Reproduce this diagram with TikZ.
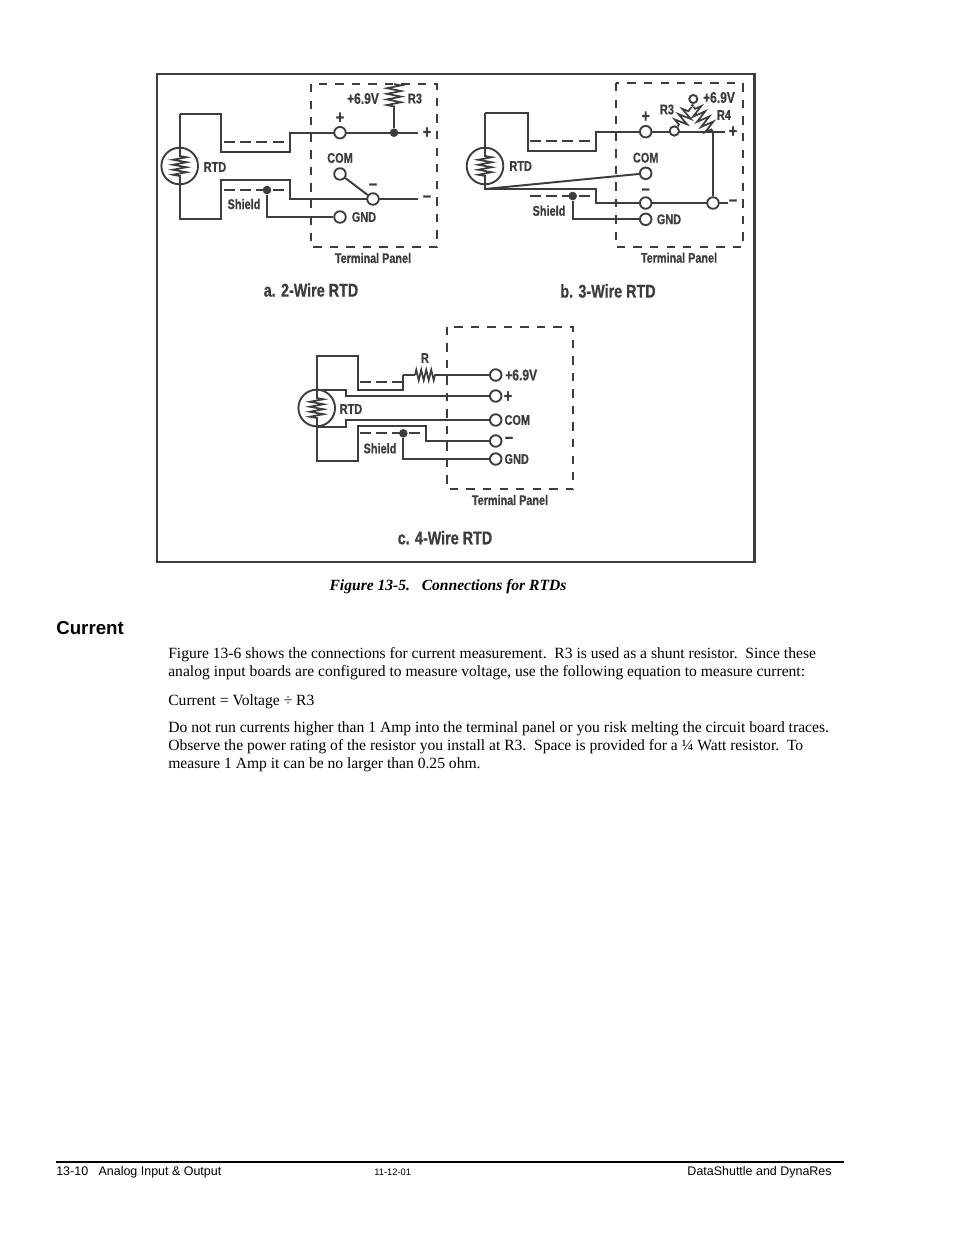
\documentclass[tikz,border=0pt]{standalone}
\usepackage{fontspec}
\setmainfont{Liberation Serif}
\setsansfont{Liberation Sans}
\newfontfamily\figfont[FakeStretch=0.78,BoldFont={Liberation Sans Bold},BoldFeatures={FakeBold=0.6}]{Liberation Sans}
\usetikzlibrary{decorations.pathmorphing}
\definecolor{ink}{gray}{0.24}
\tikzset{
  wire/.style={draw=ink,line width=1.25pt,line join=miter},
  dashwire/.style={draw=ink,line width=1.2pt,dash pattern=on 7pt off 3.4pt},
  panelbox/.style={draw=ink,line width=1.2pt,dash pattern=on 5.4pt off 5.2pt},
  term/.style={circle,draw=ink,line width=1.2pt,fill=white,minimum size=7.4pt,inner sep=0pt},
  solder/.style={circle,fill=ink,minimum size=5.5pt,inner sep=0pt},
  rtdc/.style={circle,draw=ink,line width=1.2pt,fill=white,minimum size=23.5pt,inner sep=0pt},
  flabel/.style={text=ink,inner sep=0pt,font=\figfont\bfseries\fontsize{9}{10}\selectfont},
  fvolt/.style={text=ink,inner sep=0pt,font=\figfont\bfseries\fontsize{9.9}{11}\selectfont},
  fsmall/.style={text=ink,inner sep=0pt,font=\figfont\bfseries\fontsize{8.9}{10}\selectfont},
  ftitle/.style={text=ink,inner sep=0pt,font=\figfont\bfseries\fontsize{11.8}{13}\selectfont},
  fsign/.style={text=ink,inner sep=0pt,font=\figfont\bfseries\fontsize{11.5}{12}\selectfont},
  zz/.style={draw=ink,line width=1.1pt,decorate,decoration={zigzag,segment length=3.6pt,amplitude=4.6pt}},
  zzs/.style={draw=ink,line width=1.1pt,decorate,decoration={zigzag,segment length=3.2pt,amplitude=4.4pt}},
  zzr/.style={draw=ink,line width=1.1pt,decorate,decoration={zigzag,segment length=3.2pt,amplitude=3.4pt}},
  zzb/.style={draw=ink,line width=1.1pt,decorate,decoration={zigzag,segment length=4.2pt,amplitude=4.2pt,pre length=1.5pt,post length=1.5pt}},
  bodytext/.style={anchor=base west,inner sep=0pt,font=\fontsize{10}{12}\selectfont},
  sanstext/.style={anchor=base west,inner sep=0pt,font=\sffamily\fontsize{8}{10}\selectfont},
}
\begin{document}
\begin{tikzpicture}[x=0.6415pt,y=-0.6415pt]
\useasboundingbox (0,0) rectangle (954,1235);
\fill[white] (0,0) rectangle (954,1235);
\node[draw=ink,line width=1.4pt,minimum width=383.5pt,minimum height=313.2pt,inner sep=0pt,anchor=north west] (fig) at (155.5,72.5) {};
% ---------- a
\draw[panelbox] (311,84) rectangle (437,247);
\coordinate (a1) at (179.7,114); \coordinate (a2) at (221,114); \coordinate (a3) at (221,152); \coordinate (a4) at (290,152); \coordinate (a5) at (290,132.7);
\coordinate (a6) at (221,219); \coordinate (a7) at (221,180); \coordinate (a8) at (290,180); \coordinate (a9) at (290,199); \coordinate (a10) at (179.7,219);
\coordinate (aE1) at (418,132.7); \coordinate (aE2) at (418,199);
\coordinate (aR1) at (394,84); \coordinate (aR2) at (394,108);
\coordinate (aD1) at (224,142); \coordinate (aD2) at (290,142);
\coordinate (aS1) at (224,190); \coordinate (aS2) at (290,190);
\coordinate (aG) at (267,217);
\draw[wire] (a1) -- (a2) -- (a3) -- (a4) -- (a5) -- (aE1);
\draw[wire] (a1) -- (a10) -- (a6) -- (a7) -- (a8) -- (a9) -- (aE2);
\draw[dashwire] (aD1) -- (aD2);
\draw[dashwire] (aS1) -- (aS2);
\node[rtdc] (artd) at (179.7,166) {};
\draw[zzs] (179.7,156) -- (179.7,176);
\draw[wire] (179.7,148) -- (179.7,157) (179.7,175) -- (179.7,184);
\node[term] (ap) at (340,132.7) {};
\node[term] (acom) at (340,174) {};
\node[term] (am) at (373,199) {};
\node[term] (agnd) at (340,217) {};
\node[solder] (ad1) at (394,132.7) {};
\node[solder] (ad2) at (267,190) {};
\draw[wire] (acom) -- (am);
\draw[wire] (ad2) -- (aG) -- (agnd);
\draw[zz] (aR1) -- (aR2);
\draw[wire] (aR2) -- (ad1);
\node[fvolt] (la1) at (363,98.5) {+6.9V};
\node[flabel] (la2) at (415,98.5) {R3};
\node[fsign] (la3) at (340,118) {+};
\node[fsign] (la4) at (427,132.7) {+};
\node[flabel] (la5) at (340,158) {COM};
\node[fsign] (la6) at (373,187) {−};
\node[fsign] (la7) at (427,199) {−};
\node[flabel] (la8) at (364,217) {GND};
\node[flabel] (la9) at (215,167) {RTD};
\node[flabel] (la10) at (244,204) {Shield};
\node[fsmall] (la11) at (373,258) {Terminal Panel};
\node[ftitle] (la12) at (311,290) {a. 2-Wire RTD};
% ---------- b
\draw[panelbox] (615.7,83) rectangle (742.7,247);
\coordinate (b1) at (485,113); \coordinate (b2) at (527.7,113); \coordinate (b3) at (527.7,151); \coordinate (b4) at (595.7,151); \coordinate (b5) at (595.7,131.7);
\coordinate (b6) at (485,189); \coordinate (b7) at (596,189); \coordinate (b8) at (596,203);
\coordinate (bE1) at (725,131.7); \coordinate (bE2) at (728,203); \coordinate (bJ) at (713,131.7);
\coordinate (bD1) at (530,141); \coordinate (bD2) at (596,141);
\coordinate (bS1) at (530,196); \coordinate (bS2) at (596,196);
\coordinate (bG) at (572.7,219.3);
\draw[wire] (b1) -- (b2) -- (b3) -- (b4) -- (b5) -- (bE1);
\draw[wire] (b1) -- (b6) -- (b7) -- (b8) -- (bE2);
\draw[dashwire] (bD1) -- (bD2);
\draw[dashwire] (bS1) -- (bS2);
\node[rtdc] (brtd) at (485,166) {};
\draw[zzs] (485,156) -- (485,176);
\draw[wire] (485,148) -- (485,157) (485,175) -- (485,184);
\node[term] (bp) at (645.7,131.7) {};
\node[term] (bcom) at (645.7,173.3) {};
\node[term] (bm) at (645.7,203) {};
\node[term] (bgnd) at (645.7,219.3) {};
\node[term,minimum size=6pt] (br3) at (674.3,131) {};
\node[term] (bm2) at (713,203) {};
\node[term,minimum size=5.2pt] (bv) at (693.3,99) {};
\node[solder,minimum size=2pt] (bn) at (692.5,105.5) {};
\node[solder] (bd) at (572.7,196) {};
\draw[wire] (b6) -- (bcom);
\draw[wire] (bd) -- (bG) -- (bgnd);
\draw[wire] (bJ) -- (bm2);
\draw[wire] (bv) -- (bn);
\draw[zzb] (br3) -- (bn);
\draw[zzb] (bn) -- (bJ);
\node[fvolt] (lb1) at (719,97.5) {+6.9V};
\node[flabel] (lb2) at (667,109.5) {R3};
\node[flabel] (lb3) at (724,115) {R4};
\node[fsign] (lb4) at (645.7,116.7) {+};
\node[fsign] (lb5) at (733,131.7) {+};
\node[flabel] (lb6) at (645.7,157.7) {COM};
\node[fsign] (lb7) at (645.7,192) {−};
\node[fsign] (lb8) at (733,203) {−};
\node[flabel] (lb9) at (669,219.3) {GND};
\node[flabel] (lb10) at (520.7,166) {RTD};
\node[flabel] (lb11) at (549,210.7) {Shield};
\node[fsmall] (lb12) at (679,257.7) {Terminal Panel};
\node[ftitle] (lb13) at (608,291) {b. 3-Wire RTD};
% ---------- c
\draw[panelbox] (447.3,326.7) rectangle (573.3,489.3);
\coordinate (c1) at (316.7,355.7); \coordinate (c2) at (357.7,355.7); \coordinate (c3) at (357.7,390.3); \coordinate (c4) at (403.3,390.3); \coordinate (c5) at (403.3,375);
\coordinate (cR1) at (415,375); \coordinate (cR2) at (436,375);
\coordinate (c6) at (316.7,460.7); \coordinate (c7) at (357.7,460.7); \coordinate (c8) at (357.7,426); \coordinate (c9) at (425.7,426); \coordinate (c10) at (425.7,441);
\coordinate (cP1) at (316.7,390.3); \coordinate (cP2) at (345.7,390.3); \coordinate (cP3) at (345.7,396);
\coordinate (cC1) at (316.7,426.7); \coordinate (cC2) at (345.7,426.7); \coordinate (cC3) at (345.7,420);
\coordinate (cD1) at (360,382.3); \coordinate (cD2) at (403.3,382.3);
\coordinate (cS1) at (360,433.3); \coordinate (cS2) at (425.7,433.3);
\coordinate (cG) at (403.3,459);
\node[term] (cv) at (495.7,375) {};
\node[term] (cp) at (495.7,396) {};
\node[term] (ccom) at (495.7,420) {};
\node[term] (cm) at (495.7,441) {};
\node[term] (cgnd) at (495.7,459) {};
\draw[wire] (c5) -- (c4) -- (c3) -- (c2) -- (c1) -- (c6) -- (c7) -- (c8) -- (c9) -- (c10) -- (cm);
\draw[wire] (c5) -- (cR1) (cR2) -- (cv);
\draw[zzr] (cR1) -- (cR2);
\draw[wire] (cP1) -- (cP2) -- (cP3) -- (cp);
\draw[wire] (cC1) -- (cC2) -- (cC3) -- (ccom);
\draw[dashwire] (cD1) -- (cD2);
\draw[dashwire] (cS1) -- (cS2);
\node[rtdc] (crtd) at (316.7,408) {};
\draw[zzs] (316.7,398) -- (316.7,418);
\draw[wire] (316.7,390) -- (316.7,399) (316.7,417) -- (316.7,426);
\node[solder] (cd) at (403.3,433.3) {};
\draw[wire] (cd) -- (cG) -- (cgnd);
\node[flabel] (lc1) at (425,358) {R};
\node[fvolt] (lc2) at (521.2,375) {+6.9V};
\node[fsign] (lc3) at (508,396.7) {+};
\node[flabel] (lc4) at (517.3,420) {COM};
\node[fsign] (lc5) at (509,440.3) {−};
\node[flabel] (lc6) at (516.7,459) {GND};
\node[flabel] (lc7) at (351,409) {RTD};
\node[flabel] (lc8) at (380,448.3) {Shield};
\node[fsmall] (lc9) at (510,500) {Terminal Panel};
\node[ftitle] (lc10) at (445,537.7) {c. 4-Wire RTD};
% ---------- page text
\node[inner sep=0pt,anchor=base,font=\bfseries\itshape\fontsize{10}{12}\selectfont] (cap) at (448,590.7) {Figure 13-5.\hspace{0.75em}Connections for RTDs};
\node[inner sep=0pt,anchor=base west,font=\sffamily\bfseries\fontsize{12}{14}\selectfont] (head) at (56,634) {Current};
\node[bodytext] (t1) at (168,658) {Figure 13-6 shows the connections for current measurement.\ \ R3 is used as a shunt resistor.\ \ Since these};
\node[bodytext] (t2) at (168,676) {analog input boards are configured to measure voltage, use the following equation to measure current:};
\node[bodytext] (t3) at (168,705) {Current = Voltage ÷ R3};
\node[bodytext] (t4) at (168,732) {Do not run currents higher than 1 Amp into the terminal panel or you risk melting the circuit board traces.};
\node[bodytext] (t5) at (168,750) {Observe the power rating of the resistor you install at R3.\ \ Space is provided for a ¼ Watt resistor.\ \ To};
\node[bodytext] (t6) at (168,768) {measure 1 Amp it can be no larger than 0.25 ohm.};
\coordinate (r1) at (56,1162); \coordinate (r2) at (844,1162);
\draw[line width=1.3pt,black] (r1) -- (r2);
\node[sanstext] (f1) at (56,1175) {13-10\ \ \ Analog Input \& Output};
\node[sanstext,font=\sffamily\fontsize{6}{8}\selectfont] (f2) at (374,1175) {11-12-01};
\node[sanstext,anchor=base east] (f3) at (832,1175) {DataShuttle and DynaRes};
\end{tikzpicture}
\end{document}
